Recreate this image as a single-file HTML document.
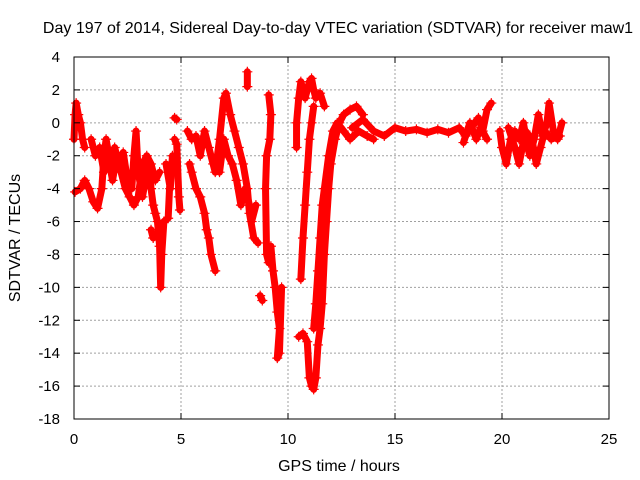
<!DOCTYPE html>
<html><head><meta charset="utf-8"><style>
body{margin:0;background:#fff;}
svg{display:block;font-family:"Liberation Sans",sans-serif;}
</style></head><body>
<svg id="chart" width="640" height="480">
<text x="338" y="33" text-anchor="middle" font-size="16">Day 197 of 2014, Sidereal Day-to-day VTEC variation (SDTVAR) for receiver maw1</text>
<text x="339" y="471" text-anchor="middle" font-size="16">GPS time / hours</text>
<text transform="translate(20,238) rotate(-90)" text-anchor="middle" font-size="16">SDTVAR / TECUs</text>
<g id="grid"></g><g id="marks"></g><g id="axes"></g>
</svg>
<script>
const xTicks=[0,5,10,15,20,25];
const yTicks=[4,2,0,-2,-4,-6,-8,-10,-12,-14,-16,-18];
const track1=[[0,-1],[0.05,0.5],[0.1,1.2],[0.2,0.5],[0.3,0],[0.4,-1],[0.5,-1.5]];
const track2=[[0.05,-4.2],[0.3,-4],[0.5,-3.5],[0.7,-4],[0.9,-4.8],[1.1,-5.2],[1.3,-4],[1.4,-2],[1.5,-1],[1.7,-2.5],[1.9,-1.5],[2.1,-2.5],[2.3,-1.8],[2.5,-3.5],[2.7,-4],[2.8,-2],[2.9,-0.5],[3.0,-3],[3.2,-4.5],[3.4,-3],[3.5,-2.5],[3.6,-4],[3.7,-5],[3.8,-5.5],[3.9,-6],[4.0,-7.5],[4.05,-10],[4.1,-8],[4.2,-6],[4.4,-5.8],[4.5,-3],[4.3,-2.5],[4.5,-4],[4.6,-2]];
const track3=[[0.8,-1],[1.0,-2],[1.2,-1.5],[1.4,-3],[1.6,-2],[1.8,-3.5],[2.0,-2],[2.2,-3],[2.4,-4],[2.6,-4.5],[2.8,-5],[3.0,-4.5],[3.2,-2.5],[3.4,-2],[3.6,-2.5],[3.8,-3.5],[4.0,-3]];
const track4=[[3.6,-6.5],[3.7,-7]];
const track5=[[4.7,0.3],[4.8,0.2]];
const track6=[[4.7,-1],[4.8,-1.3],[4.9,-4.5],[4.95,-5.3]];
const track7=[[5.4,-2.5],[5.5,-3],[5.7,-4],[5.9,-4.5],[6.1,-5.5],[6.2,-6.5],[6.3,-7],[6.4,-8],[6.6,-9]];
const track8=[[5.3,-0.5],[5.5,-1],[5.7,-0.8],[5.9,-2],[6.1,-0.5],[6.3,-1.5],[6.5,-2.5],[6.6,-3],[6.8,-1],[7.0,1.5],[7.1,1.8],[7.3,0.5],[7.5,-0.5],[7.7,-1.5],[7.9,-2.5],[8.1,-4],[8.2,-5.5],[8.4,-7],[8.6,-7.3]];
const track9=[[6.8,-3],[7.0,-1],[7.2,-2],[7.4,-2.5],[7.6,-3.5],[7.8,-5],[8.0,-4],[8.2,-5],[8.3,-6],[8.5,-5]];
const track10=[[8.1,3.1],[8.1,2.2]];
const track11=[[8.7,-10.5],[8.8,-10.8]];
const track12=[[9.1,1.7],[9.2,0.5],[9.15,-1],[9.0,-2],[8.95,-4],[9.0,-8],[9.1,-8.5],[9.2,-7.5],[9.3,-9],[9.4,-10],[9.5,-11.5],[9.6,-12.5],[9.5,-14.3],[9.6,-14],[9.7,-10]];
const track13=[[10.4,-1.5],[10.4,0],[10.5,1.5],[10.6,2.5],[10.7,2],[10.8,1.5],[11.0,2.5],[11.1,2.7],[11.2,2],[11.3,1.5],[11.5,1.8],[11.7,1]];
const track14=[[10.6,-9.5],[10.7,-7],[10.8,-5],[10.9,-3],[11.0,-1],[11.1,0],[11.2,1]];
const track15=[[10.5,-13],[10.7,-12.8],[10.9,-13.3],[11.0,-15.5],[11.1,-16],[11.2,-16.2],[11.3,-15.5],[11.4,-13.5],[11.5,-12.5],[11.6,-11],[11.7,-8],[11.8,-6],[11.9,-4],[12.0,-2.5],[12.2,-1],[12.4,0],[12.6,0.5],[12.9,0.8],[13.2,1],[13.5,0.5]];
const track16=[[11.2,-12.5],[11.3,-11],[11.4,-9],[11.5,-7],[11.6,-5],[11.7,-4],[11.9,-2],[12.1,-0.5],[12.3,0],[12.6,-0.5],[12.9,-1],[13.3,-0.5],[13.7,-0.8],[14.0,-1]];
const track17=[[13.0,-0.3],[13.5,0.2],[14.0,-0.5],[14.5,-0.8],[15.0,-0.3],[15.5,-0.5],[16.0,-0.4],[16.5,-0.6],[17.0,-0.4],[17.5,-0.6],[18.0,-0.3],[18.3,-0.8],[18.6,-0.2],[18.9,0.3],[19.1,-0.5],[19.3,0.8],[19.5,1.2]];
const track18=[[18.2,-1.2],[18.5,0],[18.8,-1],[19.0,-0.3],[19.3,-1]];
const track19=[[19.9,-0.5],[20.0,-1.5],[20.2,-2.5],[20.4,-1],[20.6,-0.5],[20.8,-1],[21.0,0],[21.2,-1.5],[21.3,-2],[21.5,-1],[21.7,0.5],[21.9,-0.8],[22.1,0],[22.2,1.2],[22.4,-0.5],[22.6,-1],[22.8,0]];
const track20=[[20.3,-0.3],[20.6,-1.5],[20.8,-2.5],[21.1,-0.5],[21.4,-1],[21.6,-2.5],[21.8,-1.5],[22.0,-0.5],[22.3,-1],[22.7,-0.8]];
const tracks=[track1,track2,track3,track4,track5,track6,track7,track8,track9,track10,track11,track12,track13,track14,track15,track16,track17,track18,track19,track20];
const X0=74,X1=609,Y0=419,Y1=57;
function xs(t){return X0+(t-0)/(25-0)*(X1-X0);}
function ys(v){return Y0-(v+18)/(22)*(Y0-Y1);}
const NS="http://www.w3.org/2000/svg";
const grid=document.getElementById('grid'),marks=document.getElementById('marks'),axes=document.getElementById('axes');
function mk(tag,attrs,parent){const e=document.createElementNS(NS,tag);for(const k in attrs)e.setAttribute(k,attrs[k]);parent.appendChild(e);return e;}
xTicks.forEach(t=>{const x=xs(t);
 if(t>0&&t<25){const g=mk('line',{x1:x,x2:x,y1:Y1,y2:Y0,stroke:'#a0a0a0','stroke-dasharray':'2,2'},grid);}
 const l=mk('text',{x:x,y:444,'text-anchor':'middle','font-size':15},axes);l.textContent=t;
 
 
 mk('line',{x1:x,x2:x,y1:Y0,y2:Y0-6,stroke:'#000'},axes);mk('line',{x1:x,x2:x,y1:Y1,y2:Y1+6,stroke:'#000'},axes);});
yTicks.forEach(v=>{const y=ys(v);
 if(v>-18&&v<4){const g=mk('line',{x1:X0,x2:X1,y1:y,y2:y,stroke:'#a0a0a0','stroke-dasharray':'2,2'},grid);}
 const l=mk('text',{x:60,y:y+5,'text-anchor':'end','font-size':15},axes);l.textContent=v;
 
 
 mk('line',{x1:X0,x2:X0+6,y1:y,y2:y,stroke:'#000'},axes);mk('line',{x1:X1,x2:X1-6,y1:y,y2:y,stroke:'#000'},axes);});
const box=mk('rect',{x:X0,y:Y1,width:X1-X0,height:Y0-Y1,fill:'none',stroke:'#000'},axes);


tracks.forEach(tr=>{
 const p=mk('polyline',{points:tr.map(d=>xs(d[0])+','+ys(d[1])).join(' '),fill:'none',stroke:'#f00','stroke-width':7,'stroke-linejoin':'round','stroke-linecap':'round'},marks);
 
 
 tr.forEach(d=>{const x=xs(d[0]),y=ys(d[1]);
  const m=mk('path',{d:`M${x-5},${y}H${x+5}M${x},${y-5}V${y+5}`,stroke:'#f00','stroke-width':1.2},marks);
  
  });
});
</script>
</body></html>
